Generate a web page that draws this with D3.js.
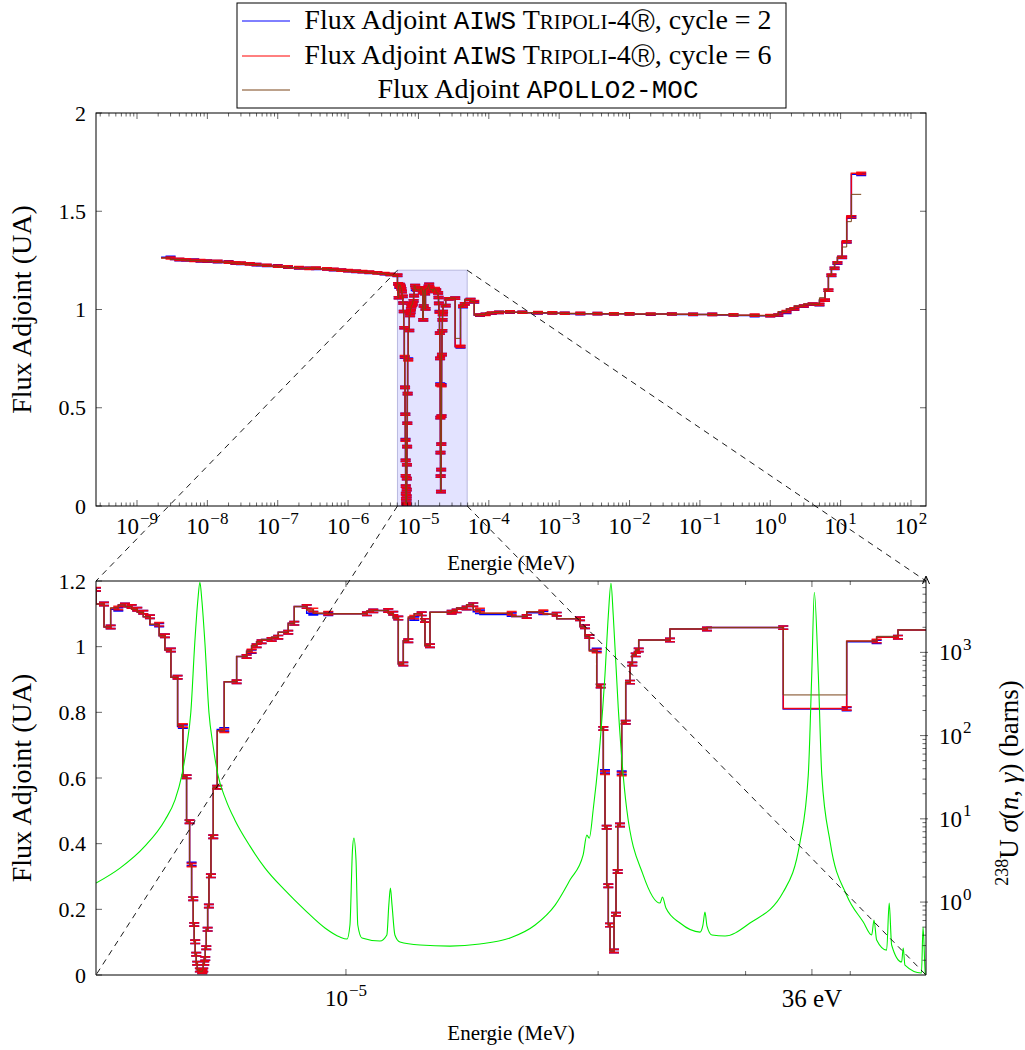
<!DOCTYPE html>
<html><head><meta charset="utf-8">
<script src="https://cdn.jsdelivr.net/npm/d3@7/dist/d3.min.js"></script>
<style>
body{margin:0;background:#fff;}
svg text{font-family:"Liberation Serif","Times New Roman",serif;fill:#000;}
</style></head><body>
<svg id="chart" width="1025" height="1050"></svg>
<script>
// ---------------- DATA ----------------
// Group boundaries (MeV)
const energyBounds = [
  // thermal / epithermal
  2.2e-9, 3e-9, 4e-9, 5e-9, 6.5e-9, 8e-9, 1e-8, 1.4e-8, 2e-8, 2.5e-8,
  3e-8, 4e-8, 5e-8, 7e-8, 1e-7, 1.4e-7, 2e-7, 2.8e-7, 3.5e-7, 5e-7,
  6.25e-7, 8e-7, 1e-6, 1.3e-6, 1.6e-6, 2e-6, 2.6e-6, 3.3e-6, 4e-6, 5.03e-6,
  // resolved resonance region
  5.142e-6, 5.237e-6, 5.348e-6, 5.447e-6, 5.548e-6, 5.634e-6, 5.728e-6, 5.834e-6, 5.984e-6, 6.079e-6,
  6.180e-6, 6.295e-6, 6.387e-6, 6.452e-6, 6.506e-6, 6.542e-6, 6.571e-6, 6.589e-6, 6.607e-6, 6.626e-6,
  6.644e-6, 6.693e-6, 6.736e-6, 6.754e-6, 6.773e-6, 6.792e-6, 6.811e-6, 6.837e-6, 6.861e-6, 6.899e-6,
  6.943e-6, 7.020e-6, 7.156e-6, 7.404e-6, 7.610e-6, 7.715e-6, 7.822e-6, 7.930e-6, 8.152e-6, 8.301e-6,
  8.532e-6, 8.675e-6, 8.977e-6, 9.141e-6, 9.525e-6, 1.0594e-5, 1.0779e-5, 1.1233e-5, 1.1388e-5, 1.1547e-5,
  1.1707e-5, 1.1869e-5, 1.2066e-5, 1.2314e-5, 1.2426e-5, 1.2598e-5, 1.3372e-5, 1.3557e-5, 1.3934e-5, 1.4189e-5,
  1.4453e-5, 1.5771e-5, 1.6437e-5, 1.7204e-5, 1.7849e-5, 1.9031e-5, 1.9294e-5, 1.9523e-5, 1.9924e-5, 2.0144e-5,
  2.0289e-5, 2.0384e-5, 2.0479e-5, 2.0569e-5, 2.0666e-5, 2.0894e-5, 2.1010e-5, 2.1108e-5, 2.1242e-5, 2.1341e-5,
  2.1577e-5, 2.1833e-5, 2.1972e-5, 2.2178e-5, 2.2362e-5, 2.4369e-5, 2.6977e-5, 3.3272e-5, 3.9609e-5, 4.3010e-5,
  4.5604e-5, 5.5e-5,
  // fast
  6.2e-5, 7.5e-5, 9e-5, 1.1e-4, 1.4e-4, 2e-4, 3e-4, 5e-4, 8e-4, 1.2e-3,
  2e-3, 3.5e-3, 6e-3, 1e-2, 2e-2, 4e-2, 8e-2, 0.15, 0.3, 0.6,
  1.0, 1.3, 1.7, 2.2, 3.0, 4.0, 5.0, 6.0, 6.7, 7.4,
  8.2, 9.0, 10.5, 12.2, 14.2, 19.6
];

// Flux Adjoint AIWS Tripoli-4, cycle = 2
const fluxTripoliC2 = [
  1.266, 1.254, 1.252, 1.251, 1.247, 1.246, 1.244, 1.242, 1.236, 1.235,
  1.233, 1.228, 1.224, 1.222, 1.216, 1.212, 1.210, 1.209, 1.206, 1.203,
  1.201, 1.197, 1.194, 1.192, 1.189, 1.187, 1.182, 1.178, 1.174,
  1.130, 1.060, 1.114, 1.127, 1.122, 1.114, 1.105, 1.091, 1.066, 1.033,
  0.990, 0.907, 0.757, 0.604, 0.467, 0.338, 0.232, 0.154, 0.101, 0.063,
  0.036, 0.015, 0.010, 0.015, 0.036, 0.050, 0.083, 0.139, 0.210, 0.302,
  0.421, 0.572, 0.748, 0.893, 0.970, 0.985, 1.003, 1.015, 1.022, 1.029,
  1.044, 1.071, 1.122, 1.102, 1.100, 1.100, 1.109, 1.110, 1.102, 1.087,
  0.947, 1.018, 1.086, 1.100, 1.080, 1.003, 1.105, 1.109, 1.118, 1.128,
  1.106, 1.098, 1.092, 1.103, 1.099, 1.085, 1.061, 1.031, 0.990, 0.880,
  0.751, 0.620, 0.450, 0.272, 0.152, 0.073, 0.185, 0.315, 0.457, 0.616,
  0.770, 0.892, 0.947, 0.975, 0.990, 1.020, 1.054, 1.058, 0.810, 1.015,
  1.029, 1.051,
  1.038, 0.971, 0.976, 0.981, 0.985, 0.987, 0.986, 0.983, 0.982, 0.981,
  0.979, 0.979, 0.977, 0.978, 0.976, 0.977, 0.975, 0.975, 0.972, 0.969,
  0.968, 0.971, 0.985, 1.002, 1.017, 1.027, 1.025, 1.047, 1.098, 1.174,
  1.209, 1.236, 1.265, 1.344, 1.470, 1.688
];

// Flux Adjoint AIWS Tripoli-4, cycle = 6
const fluxTripoliC6 = [
  1.262, 1.255, 1.253, 1.250, 1.249, 1.247, 1.245, 1.241, 1.237, 1.236,
  1.232, 1.229, 1.225, 1.221, 1.217, 1.213, 1.209, 1.211, 1.207, 1.204,
  1.200, 1.198, 1.195, 1.193, 1.190, 1.186, 1.183, 1.179, 1.175,
  1.130, 1.060, 1.118, 1.127, 1.122, 1.114, 1.105, 1.091, 1.068, 1.033,
  0.990, 0.907, 0.760, 0.604, 0.467, 0.335, 0.232, 0.154, 0.101, 0.063,
  0.036, 0.015, 0.010, 0.015, 0.036, 0.050, 0.083, 0.139, 0.210, 0.302,
  0.421, 0.572, 0.744, 0.893, 0.970, 0.987, 1.003, 1.015, 1.022, 1.029,
  1.044, 1.071, 1.122, 1.112, 1.102, 1.100, 1.109, 1.110, 1.102, 1.087,
  0.947, 1.018, 1.090, 1.100, 1.080, 1.003, 1.105, 1.109, 1.118, 1.128,
  1.112, 1.102, 1.092, 1.106, 1.099, 1.085, 1.061, 1.031, 0.987, 0.880,
  0.751, 0.616, 0.450, 0.272, 0.152, 0.073, 0.185, 0.315, 0.457, 0.612,
  0.770, 0.892, 0.947, 0.975, 0.990, 1.020, 1.054, 1.058, 0.812, 1.017,
  1.029, 1.051,
  1.040, 0.972, 0.975, 0.982, 0.985, 0.988, 0.986, 0.984, 0.983, 0.981,
  0.980, 0.979, 0.978, 0.978, 0.977, 0.977, 0.976, 0.975, 0.973, 0.971,
  0.969, 0.972, 0.989, 1.003, 1.018, 1.028, 1.026, 1.048, 1.099, 1.175,
  1.210, 1.238, 1.266, 1.345, 1.472, 1.693
];

// Flux Adjoint APOLLO2-MOC
const fluxApollo = [
  1.262, 1.255, 1.253, 1.250, 1.249, 1.247, 1.245, 1.241, 1.237, 1.236,
  1.232, 1.229, 1.225, 1.221, 1.217, 1.213, 1.209, 1.211, 1.207, 1.204,
  1.200, 1.198, 1.195, 1.193, 1.190, 1.186, 1.183, 1.179, 1.175,
  1.130, 1.060, 1.118, 1.127, 1.122, 1.114, 1.105, 1.091, 1.068, 1.033,
  0.990, 0.907, 0.760, 0.604, 0.467, 0.335, 0.232, 0.154, 0.101, 0.063,
  0.036, 0.015, 0.010, 0.015, 0.036, 0.050, 0.083, 0.139, 0.210, 0.302,
  0.421, 0.572, 0.744, 0.893, 0.970, 0.987, 1.003, 1.015, 1.022, 1.029,
  1.044, 1.071, 1.122, 1.112, 1.102, 1.100, 1.109, 1.110, 1.102, 1.087,
  0.947, 1.018, 1.090, 1.100, 1.080, 1.003, 1.105, 1.109, 1.118, 1.128,
  1.112, 1.102, 1.092, 1.106, 1.099, 1.085, 1.061, 1.031, 0.987, 0.880,
  0.751, 0.616, 0.450, 0.272, 0.152, 0.073, 0.185, 0.315, 0.457, 0.612,
  0.770, 0.892, 0.947, 0.975, 0.990, 1.020, 1.054, 1.058, 0.853, 1.017,
  1.0315, 1.051,
  1.040, 0.972, 0.975, 0.982, 0.985, 0.988, 0.986, 0.984, 0.983, 0.981,
  0.980, 0.979, 0.978, 0.978, 0.977, 0.977, 0.976, 0.975, 0.973, 0.971,
  0.969, 0.972, 0.989, 1.003, 1.018, 1.028, 1.026, 1.060, 1.099, 1.175,
  1.210, 1.238, 1.266, 1.318, 1.447, 1.586
];
const tripoliErr = 0.005;   // statistical uncertainty (UA)

// 238U capture cross section (energy MeV, sigma barns)
const sigmaEnergy = [
  5.03e-6, 5.373e-6, 5.754e-6, 6.079e-6, 6.249e-6, 6.369e-6, 6.457e-6, 6.528e-6, 6.600e-6, 6.655e-6,
  6.693e-6, 6.729e-6, 6.785e-6, 6.861e-6, 6.938e-6, 7.034e-6, 7.190e-6, 7.370e-6, 7.681e-6, 8.005e-6,
  8.454e-6, 8.934e-6, 9.439e-6, 9.836e-6, 10.03e-6, 10.11e-6, 10.18e-6, 10.22e-6, 10.28e-6, 10.33e-6,
  10.45e-6, 10.98e-6, 11.19e-6, 11.25e-6, 11.30e-6, 11.35e-6, 11.44e-6, 11.60e-6, 12.26e-6, 13.31e-6,
  14.45e-6, 15.70e-6, 16.82e-6, 17.77e-6, 18.51e-6, 19.19e-6, 19.39e-6, 19.52e-6, 19.74e-6, 20.11e-6,
  20.38e-6, 20.57e-6, 20.72e-6, 20.85e-6, 21.14e-6, 21.63e-6, 22.64e-6, 23.71e-6, 23.87e-6, 24.10e-6,
  25.05e-6, 26.46e-6, 26.68e-6, 26.83e-6, 26.98e-6, 27.35e-6, 28.35e-6, 30.36e-6, 33.27e-6, 34.84e-6,
  35.64e-6, 35.98e-6, 36.24e-6, 36.64e-6, 36.99e-6, 37.85e-6, 39.61e-6, 41.46e-6, 42.43e-6, 42.70e-6,
  43.01e-6, 44.21e-6, 44.52e-6, 44.82e-6, 46.07e-6, 46.27e-6, 46.49e-6, 48.65e-6, 48.86e-6, 49.18e-6,
  49.5e-6
];
const sigmaCapture = [
  1.69, 2.56, 4.70, 9.64, 16.8, 33.5, 76.7, 191, 1322, 4220,
  6940, 4220, 1322, 191, 76.7, 33.5, 16.8, 9.64, 4.70, 2.56,
  1.39, 0.80, 0.488, 0.380, 0.360, 0.530, 4.21, 5.87, 3.19, 0.530,
  0.370, 0.340, 0.402, 0.92, 1.47, 0.92, 0.402, 0.331, 0.305, 0.296,
  0.313, 0.370, 0.530, 0.92, 1.84, 3.66, 6.37, 5.87, 13.4, 83.3,
  531, 2790, 6750, 2790, 213, 13.4, 2.11, 0.973, 1.15, 0.847,
  0.560, 0.436, 0.530, 0.759, 0.515, 0.402, 0.391, 0.560, 1.318, 5.25,
  33.5, 531, 5270, 531, 33.5, 5.25, 1.21, 0.575, 0.402, 0.608,
  0.350, 0.265, 0.973, 0.305, 0.1905, 0.280, 0.175, 0.1406, 0.501, 0.133,
  0.12
];

// Tick definitions
const topXTickExps = [-9, -8, -7, -6, -5, -4, -3, -2, -1, 0, 1, 2];
const topYTicks = [0, 0.5, 1, 1.5, 2];
const topYTickLabels = ["0", "0.5", "1", "1.5", "2"];
const botYTicks = [0, 0.2, 0.4, 0.6, 0.8, 1.0, 1.2];
const botYTickLabels = ["0", "0.2", "0.4", "0.6", "0.8", "1", "1.2"];
const botXMajorTicks = [1e-5, 3.6e-5];
const botXMinorTicks = [2e-5, 3e-5, 4e-5];
const sigmaTickExps = [0, 1, 2, 3];
const zoomWindow = [5.030e-6, 4.926e-5];
const zoomFluxMax = 1.2;

// ---------------- LAYOUT ----------------
const svg = d3.select('#chart');
const P1 = {l: 96, r: 926, t: 113, b: 506};
const P2 = {l: 96, r: 926, t: 581, b: 975};
const BLUE = '#0000ff', RED = '#ff0000', BROWN = '#7a4419', GREEN = '#00ee00';

const x1 = d3.scaleLog().domain([2.614e-10, 163.4]).range([P1.l, P1.r]);
const y1 = d3.scaleLinear().domain([0, 2]).range([P1.b, P1.t]);
const x2 = d3.scaleLog().domain(zoomWindow).range([P2.l, P2.r]);
const y2 = d3.scaleLinear().domain([0, zoomFluxMax]).range([P2.b, P2.t]);
const ys = d3.scaleLog().domain([0.133, 7200]).range([P2.b, P2.t]);

const defs = svg.append('defs');
defs.append('clipPath').attr('id', 'clip1').append('rect')
  .attr('x', P1.l).attr('y', P1.t).attr('width', P1.r - P1.l).attr('height', P1.b - P1.t);
defs.append('clipPath').attr('id', 'clip2').append('rect')
  .attr('x', P2.l).attr('y', P2.t).attr('width', P2.r - P2.l).attr('height', P2.b - P2.t);

function supText(g, x, y, base, exp, size, anchor) {
  const t = g.append('text').attr('x', x).attr('y', y)
    .attr('text-anchor', anchor || 'middle').style('font-size', size + 'px');
  t.append('tspan').text(base);
  t.append('tspan').attr('dy', -0.45 * size).attr('dx', 1).style('font-size', (size * 0.74) + 'px').text(exp);
  return t;
}
const expStr = k => (k < 0 ? '\u2212' + (-k) : '' + k);

function stepPts(values) {
  const pts = [[energyBounds[0], values[0]]];
  values.forEach((v, i) => pts.push([energyBounds[i + 1], v]));
  return pts;
}

function drawSeries(g, xs, yscale, values, color, width, opacity, bars) {
  const line = d3.line().x(d => xs(d[0])).y(d => yscale(d[1])).curve(d3.curveStepBefore);
  g.append('path').datum(stepPts(values)).attr('d', line)
    .attr('fill', 'none').attr('stroke', color).attr('stroke-width', width)
    .attr('stroke-opacity', opacity);
  if (bars) {
    const hw = 5;
    const path = values.map((v, i) => {
      const x = xs(energyBounds[i + 1]);
      const ya = yscale(v + tripoliErr), yb = yscale(v - tripoliErr);
      return `M${x - hw},${ya}H${x + hw}M${x - hw},${yb}H${x + hw}M${x},${ya}V${yb}`;
    }).join('');
    g.append('path').attr('d', path).attr('fill', 'none')
      .attr('stroke', color).attr('stroke-width', 1.7).attr('stroke-opacity', opacity);
  }
}

// ================= TOP PLOT =================
const g1 = svg.append('g');
g1.append('rect')
  .attr('x', x1(zoomWindow[0])).attr('y', y1(zoomFluxMax))
  .attr('width', x1(zoomWindow[1]) - x1(zoomWindow[0]))
  .attr('height', y1(0) - y1(zoomFluxMax))
  .attr('fill', '#0000ff').attr('fill-opacity', 0.11)
  .attr('stroke', '#b8b8e0').attr('stroke-width', 1);

const d1 = g1.append('g').attr('clip-path', 'url(#clip1)');
drawSeries(d1, x1, y1, fluxTripoliC2, BLUE, 1.5, 1, true);
drawSeries(d1, x1, y1, fluxTripoliC6, RED, 1.5, 0.9, true);
drawSeries(d1, x1, y1, fluxApollo, BROWN, 1, 1, false);

const tk1 = g1.append('g').attr('stroke', '#000').attr('stroke-width', 0.6);
const [lo1, hi1] = x1.domain();
for (let k = -10; k <= 2; k++) {
  for (let m = 1; m <= 9; m++) {
    const v = m * Math.pow(10, k);
    if (v < lo1 || v > hi1) continue;
    const x = x1(v), len = m === 1 ? 6 : 3.5;
    tk1.append('line').attr('x1', x).attr('x2', x).attr('y1', P1.b).attr('y2', P1.b - len);
    tk1.append('line').attr('x1', x).attr('x2', x).attr('y1', P1.t).attr('y2', P1.t + len);
  }
}
topYTicks.forEach(v => {
  const y = y1(v);
  tk1.append('line').attr('x1', P1.l).attr('x2', P1.l + 6).attr('y1', y).attr('y2', y);
  tk1.append('line').attr('x1', P1.r).attr('x2', P1.r - 6).attr('y1', y).attr('y2', y);
});
g1.append('rect').attr('x', P1.l).attr('y', P1.t).attr('width', P1.r - P1.l).attr('height', P1.b - P1.t)
  .attr('fill', 'none').attr('stroke', '#000').attr('stroke-width', 1);

topXTickExps.forEach(k => supText(g1, x1(Math.pow(10, k)), 534, '10', expStr(k), 23));
topYTicks.forEach((v, i) => g1.append('text').attr('x', P1.l - 10).attr('y', y1(v)).attr('dy', '0.35em')
  .attr('text-anchor', 'end').style('font-size', '22px').text(topYTickLabels[i]));
g1.append('text').attr('x', (P1.l + P1.r) / 2).attr('y', 570).attr('text-anchor', 'middle')
  .style('font-size', '21px').text('Energie (MeV)');
g1.append('text').attr('transform', `translate(31,${(P1.t + P1.b) / 2}) rotate(-90)`)
  .attr('text-anchor', 'middle').style('font-size', '28px').text('Flux Adjoint (UA)');

// ================= BOTTOM PLOT =================
const g2 = svg.append('g');
const d2 = g2.append('g').attr('clip-path', 'url(#clip2)');
drawSeries(d2, x2, y2, fluxTripoliC2, BLUE, 1.5, 1, true);
drawSeries(d2, x2, y2, fluxTripoliC6, RED, 1.5, 0.9, true);
drawSeries(d2, x2, y2, fluxApollo, BROWN, 1, 1, false);

const sig = sigmaEnergy.map((e, i) => [e, sigmaCapture[i]]);
d2.append('path').datum(sig)
  .attr('d', d3.line().x(d => x2(d[0])).y(d => ys(d[1])).curve(d3.curveMonotoneX))
  .attr('fill', 'none').attr('stroke', GREEN).attr('stroke-width', 1.1);

const tk2 = g2.append('g').attr('stroke', '#000').attr('stroke-width', 0.6);
botXMajorTicks.forEach(v => {
  const x = x2(v);
  tk2.append('line').attr('x1', x).attr('x2', x).attr('y1', P2.b).attr('y2', P2.b - 6);
  tk2.append('line').attr('x1', x).attr('x2', x).attr('y1', P2.t).attr('y2', P2.t + 6);
});
botXMinorTicks.forEach(v => {
  const x = x2(v);
  tk2.append('line').attr('x1', x).attr('x2', x).attr('y1', P2.b).attr('y2', P2.b - 4);
  tk2.append('line').attr('x1', x).attr('x2', x).attr('y1', P2.t).attr('y2', P2.t + 4);
});
botYTicks.forEach(v => {
  const y = y2(v);
  tk2.append('line').attr('x1', P2.l).attr('x2', P2.l + 6).attr('y1', y).attr('y2', y);
});
const [slo, shi] = ys.domain();
for (let k = -1; k <= 3; k++) {
  for (let m = 1; m <= 9; m++) {
    const v = m * Math.pow(10, k);
    if (v < slo || v > shi) continue;
    const y = ys(v), major = m === 1;
    tk2.append('line').attr('x1', P2.r - (major ? 6 : 3.5)).attr('x2', P2.r + (major ? 2 : 0))
      .attr('y1', y).attr('y2', y);
  }
}
g2.append('path').attr('d', `M${P2.r},${P2.t}H${P2.l}V${P2.b}H${P2.r}`)
  .attr('fill', 'none').attr('stroke', '#000').attr('stroke-width', 1);
g2.append('line').attr('x1', P2.r).attr('x2', P2.r).attr('y1', P2.b).attr('y2', P2.t - 4)
  .attr('stroke', '#000').attr('stroke-width', 1);
g2.append('path').attr('d', `M${P2.r - 3.5},${P2.t + 3}L${P2.r},${P2.t - 5}L${P2.r + 3.5},${P2.t + 3}`)
  .attr('fill', 'none').attr('stroke', '#000').attr('stroke-width', 1);

supText(g2, x2(1e-5), 1006, '10', '\u22125', 23);
g2.append('text').attr('x', x2(3.6e-5)).attr('y', 1007).attr('text-anchor', 'middle')
  .style('font-size', '25px').text('36 eV');
botYTicks.forEach((v, i) => g2.append('text').attr('x', P2.l - 10).attr('y', y2(v)).attr('dy', '0.35em')
  .attr('text-anchor', 'end').style('font-size', '22px').text(botYTickLabels[i]));
sigmaTickExps.forEach(k => supText(g2, P2.r + 13, ys(Math.pow(10, k)) + 8, '10', expStr(k), 23, 'start'));
g2.append('text').attr('x', (P2.l + P2.r) / 2).attr('y', 1040).attr('text-anchor', 'middle')
  .style('font-size', '21px').text('Energie (MeV)');
g2.append('text').attr('transform', `translate(31,${(P2.t + P2.b) / 2}) rotate(-90)`)
  .attr('text-anchor', 'middle').style('font-size', '28px').text('Flux Adjoint (UA)');
const rl = g2.append('text').attr('transform', `translate(1018,783) rotate(-90)`)
  .attr('text-anchor', 'middle').style('font-size', '27px');
rl.append('tspan').attr('dy', -10).style('font-size', '18px').text('238');
rl.append('tspan').attr('dy', 10).text('U ');
rl.append('tspan').style('font-style', 'italic').text('\u03c3');
rl.append('tspan').text('(');
rl.append('tspan').style('font-style', 'italic').text('n');
rl.append('tspan').text(', ');
rl.append('tspan').style('font-style', 'italic').text('\u03b3');
rl.append('tspan').text(') (barns)');

// ================= ZOOM CONNECTORS =================
const conn = [
  [[x1(zoomWindow[0]), y1(zoomFluxMax)], [x2(zoomWindow[0]), y2(zoomFluxMax)]],
  [[x1(zoomWindow[0]), y1(0)], [x2(zoomWindow[0]), y2(0)]],
  [[x1(zoomWindow[1]), y1(zoomFluxMax)], [x2(zoomWindow[1]), y2(zoomFluxMax)]],
  [[x1(zoomWindow[1]), y1(0)], [x2(zoomWindow[1]), y2(0)]]
];
svg.append('g').selectAll('line').data(conn).join('line')
  .attr('x1', d => d[0][0]).attr('y1', d => d[0][1]).attr('x2', d => d[1][0]).attr('y2', d => d[1][1])
  .attr('stroke', '#000').attr('stroke-width', 0.9).attr('stroke-dasharray', '6,5');

// ================= LEGEND =================
const lg = svg.append('g');
lg.append('rect').attr('x', 237).attr('y', 3).attr('width', 549).attr('height', 105)
  .attr('fill', '#fff').attr('stroke', '#000').attr('stroke-width', 1);
const rows = [
  {color: BLUE, y: 21, base: 29, cyc: '2'},
  {color: RED, y: 56, base: 64, cyc: '6'},
  {color: BROWN, y: 90, base: 98, cyc: null}
];
rows.forEach(r => {
  lg.append('line').attr('x1', 242).attr('x2', 290).attr('y1', r.y).attr('y2', r.y)
    .attr('stroke', r.color).attr('stroke-width', 1);
  const t = lg.append('text').attr('x', 538).attr('y', r.base).attr('text-anchor', 'middle')
    .style('font-size', '28px');
  t.append('tspan').text('Flux Adjoint ');
  if (r.cyc) {
    t.append('tspan').style('font-family', '"Liberation Mono",monospace').style('font-size', '26px').text('AIWS');
    t.append('tspan').text(' T');
    t.append('tspan').style('font-size', '21px').text('RIPOLI');
    t.append('tspan').text('-4');
    t.append('tspan').style('font-family', '"DejaVu Sans",sans-serif').style('font-size', '24px').text('\u24c7');
    t.append('tspan').text(', cycle = ' + r.cyc);
  } else {
    t.append('tspan').style('font-family', '"Liberation Mono",monospace').style('font-size', '26px').text('APOLLO2-MOC');
  }
});
</script></body></html>
